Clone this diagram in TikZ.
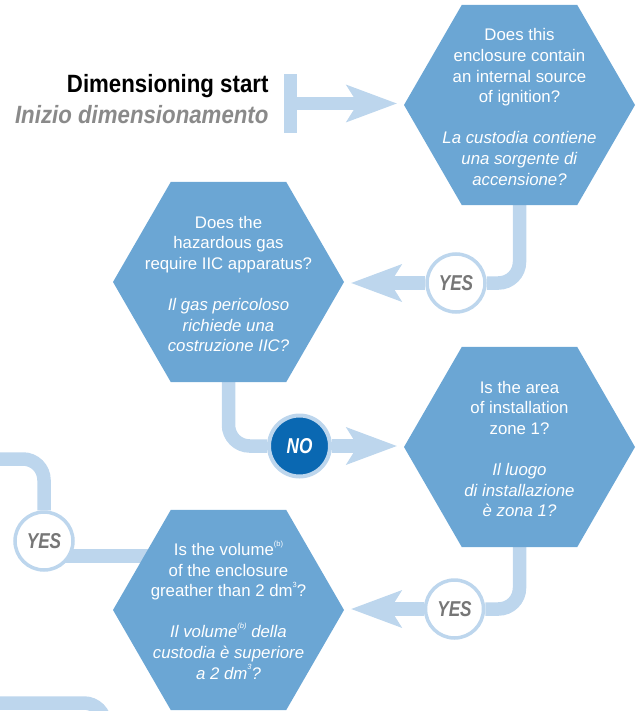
\documentclass[tikz,border=0pt]{standalone}
\usepackage{fontspec}
\setmainfont{Liberation Sans}
\newfontfamily\headfont[FakeStretch=0.89]{Liberation Sans}
\newfontfamily\tagfont[FakeStretch=0.8]{Liberation Sans}
\usetikzlibrary{shapes.geometric,arrows.meta}
\definecolor{hexblue}{RGB}{107,166,212}
\definecolor{linkblue}{RGB}{189,214,237}
\definecolor{noblue}{RGB}{10,104,178}
\definecolor{taggrey}{RGB}{118,118,118}
\definecolor{subgrey}{RGB}{138,138,138}
\pgfdeclarelayer{bg}
\pgfsetlayers{bg,main}
\def\sups#1{\raisebox{0.55em}{\fontsize{7.5}{7.5}\selectfont#1}}
\tikzset{
  hexa/.style={regular polygon, regular polygon sides=6, minimum size=231pt, inner sep=0pt, fill=hexblue},
  hextext/.style={align=center, text=white, font=\fontsize{16.8}{20.6}\selectfont},
  link/.style={line width=13.5pt, color=linkblue, rounded corners=21pt},
  head/.style={-{Stealth[length=51pt, width=38pt, inset=12pt, line width=0pt]}, shorten >=7pt},
  yestag/.style={circle, minimum size=58pt, inner sep=0pt, fill=white, draw=linkblue, line width=3.5pt, text=taggrey, font=\tagfont\bfseries\itshape\fontsize{21.5}{21.5}\selectfont},
  notag/.style={yestag, fill=noblue, text=white, minimum size=61pt, line width=4pt}
}

\begin{document}
\begin{tikzpicture}[x=1pt,y=-1pt]
	%%%%% START %%%%%
	\useasboundingbox (0,0) rectangle (637,711);
	
	\node[fill=linkblue, minimum width=13pt, minimum height=59pt, inner sep=0pt] (bar) at (290.5,103.5) {};
	\node[anchor=base east, font=\headfont\bfseries\fontsize{25}{25}\selectfont] (st1) at (272,93) {Dimensioning start};
	\node[anchor=base east, text=subgrey, font=\headfont\bfseries\itshape\fontsize{25}{25}\selectfont] (st2) at (272,124) {Inizio dimensionamento};
	
	\node[hexa] (q1) at (519.5,105) {};
	\node[hextext] (q1t) at (519.5,107) {Does this\\enclosure contain\\an internal source\\of ignition?\\[20.6pt]\textit{La custodia contiene}\\\textit{una sorgente di}\\\textit{accensione?}};
	
	\node[hexa] (q2) at (228.5,282) {};
	\node[hextext] (q2t) at (228.5,284) {Does the\\hazardous gas\\require IIC apparatus?\\[20.6pt]\textit{Il gas pericoloso}\\\textit{richiede una}\\\textit{costruzione IIC?}};
	
	\node[hexa] (q3) at (519.5,447) {};
	\node[hextext] (q3t) at (519.5,449) {Is the area\\of installation\\zone 1?\\[20.6pt]\textit{Il luogo}\\\textit{di installazione}\\\textit{è zona 1?}};
	
	\node[hexa] (q4) at (228.5,610) {};
	\node[hextext] (q4t) at (228.5,610) {Is the volume\sups{(b)}\\of the enclosure\\greather than 2 dm\sups{3}?\\[20.6pt]\textit{Il volume\sups{(b)} della}\\\textit{custodia è superiore}\\\textit{a 2 dm\sups{3}?}};
	
	\node[yestag] (yes1) at (456,283) {YES};
	\node[notag] (no1) at (299.5,446) {NO};
	\node[yestag] (yes2) at (454.5,609) {YES};
	\node[yestag] (yes3) at (44,541) {YES};
	
	\coordinate (outA) at (-20,459);
	\coordinate (outB) at (-20,703);
	\coordinate (outC) at (105,740);
	
	\begin{pgfonlayer}{bg}
		\draw[link, head] (bar) -- (bar -| q1.west);
		\draw[link] (q1.south) |- (yes1);
		\draw[link, head] (yes1) -- (yes1 -| q2.east);
		\draw[link] (q2.south) |- (no1);
		\draw[link, head] (no1) -- (no1 -| q3.west);
		\draw[link] (q3.south) |- (yes2);
		\draw[link, head] (yes2) -- (yes2 -| q4.east);
		\draw[link] (yes3) |- (outA);
		\draw[link] ([yshift=-15pt]yes3.center) -- ([yshift=54pt]q4.center);
		\draw[link] (outB) -| (outC);
	\end{pgfonlayer}
	%%%%% END %%%%%
\end{tikzpicture}
\end{document}
